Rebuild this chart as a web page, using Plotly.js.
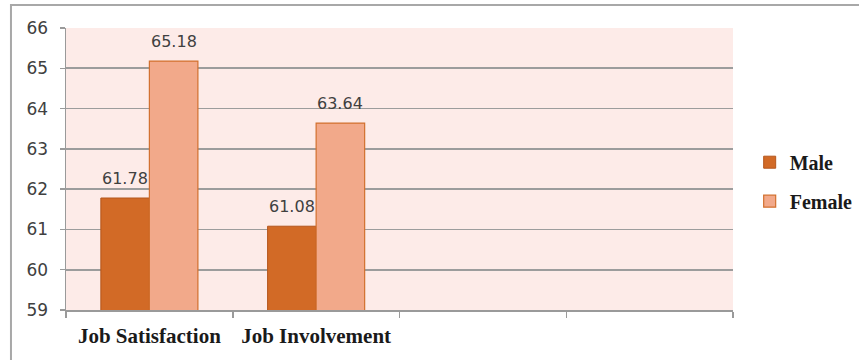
<!DOCTYPE html>
<html>
<head>
<meta charset="utf-8">
<script src="https://cdn.plot.ly/plotly-3.0.1.min.js"></script>
<style>
  html, body { margin: 0; padding: 0; background: #ffffff; }
  #chart { width: 859px; height: 360px; }
</style>
</head>
<body>
<div id="chart"></div>
<script>
// Mean scores by gender
const categories = ["Job Satisfaction", "Job Involvement", " ", "  "];
const maleValues = [61.78, 61.08];
const femaleValues = [65.18, 63.64];
const yTicks = [59, 60, 61, 62, 63, 64, 65, 66];

const BAR_GAP = 0.418;
const halfBar = (1 - BAR_GAP) / 4;   // offset of each bar centre inside its group

const maleColor = "#d26a26";
const femaleColor = "#f2a98a";
const labelFont = { family: "DejaVu Sans", size: 16, color: "#404040" };

const usedCats = categories.slice(0, maleValues.length);

const traces = [
  {
    type: "bar",
    name: "Male",
    x: usedCats,
    y: maleValues,
    marker: { color: maleColor, line: { color: "#b4561c", width: 1 } },
    legendgroup: "m",
    hoverinfo: "x+y+name"
  },
  {
    type: "bar",
    name: "Female",
    x: usedCats,
    y: femaleValues,
    marker: { color: femaleColor, line: { color: "#d2702e", width: 1.2 } },
    legendgroup: "f",
    hoverinfo: "x+y+name"
  }
];

// value labels above each bar
const annotations = [];
maleValues.forEach((v, i) => annotations.push({
  x: i - halfBar, y: v, xref: "x", yref: "y",
  text: v.toFixed(2), showarrow: false, yanchor: "bottom", yshift: 8,
  font: labelFont
}));
femaleValues.forEach((v, i) => annotations.push({
  x: i + halfBar, y: v, xref: "x", yref: "y",
  text: v.toFixed(2), showarrow: false, yanchor: "bottom", yshift: 8,
  font: labelFont
}));

const layout = {
  width: 859,
  height: 360,
  margin: { l: 66, r: 126, t: 28, b: 50, pad: 0, autoexpand: false },
  paper_bgcolor: "#ffffff",
  plot_bgcolor: "#fdebe8",
  barmode: "group",
  bargap: BAR_GAP,
  bargroupgap: 0,
  showlegend: true,
  legend: {
    x: 1.025, xanchor: "left",
    y: 0.455, yanchor: "middle",
    tracegroupgap: 10,
    font: { family: "Liberation Serif", size: 20, color: "#1a1a1a", weight: "bold" },
    bgcolor: "rgba(0,0,0,0)"
  },
  xaxis: {
    type: "category",
    categoryorder: "array",
    categoryarray: categories,
    range: [-0.5, categories.length - 0.5],
    tickson: "boundaries",
    ticks: "outside",
    ticklen: 6,
    tickcolor: "#9a9a9a",
    tickwidth: 1.5,
    ticklabelstandoff: 6,
    showline: true,
    linecolor: "#9a9a9a",
    linewidth: 1.5,
    showgrid: false,
    zeroline: false,
    fixedrange: true,
    tickfont: { family: "Liberation Serif", size: 21, color: "#1a1a1a", weight: "bold" }
  },
  yaxis: {
    range: [59, 66],
    tickvals: yTicks,
    ticktext: yTicks.map(String),
    ticks: "outside",
    ticklen: 5,
    tickcolor: "#9a9a9a",
    tickwidth: 1.5,
    ticklabelstandoff: 8,
    showline: true,
    linecolor: "#9a9a9a",
    linewidth: 1.5,
    showgrid: true,
    gridcolor: "#9c9c9c",
    gridwidth: 1.6,
    zeroline: false,
    fixedrange: true,
    tickfont: { family: "DejaVu Sans", size: 17, color: "#404040" }
  },
  annotations: annotations,
  shapes: [
    {
      type: "rect", xref: "paper", yref: "paper",
      x0: -0.0825, x1: 1.25, y0: -0.25, y1: 1.0816,
      line: { color: "#a8a8a8", width: 2 },
      fillcolor: "rgba(0,0,0,0)",
      layer: "below"
    }
  ]
};

Plotly.newPlot("chart", traces, layout, { displayModeBar: false, staticPlot: true });
</script>
</body>
</html>
